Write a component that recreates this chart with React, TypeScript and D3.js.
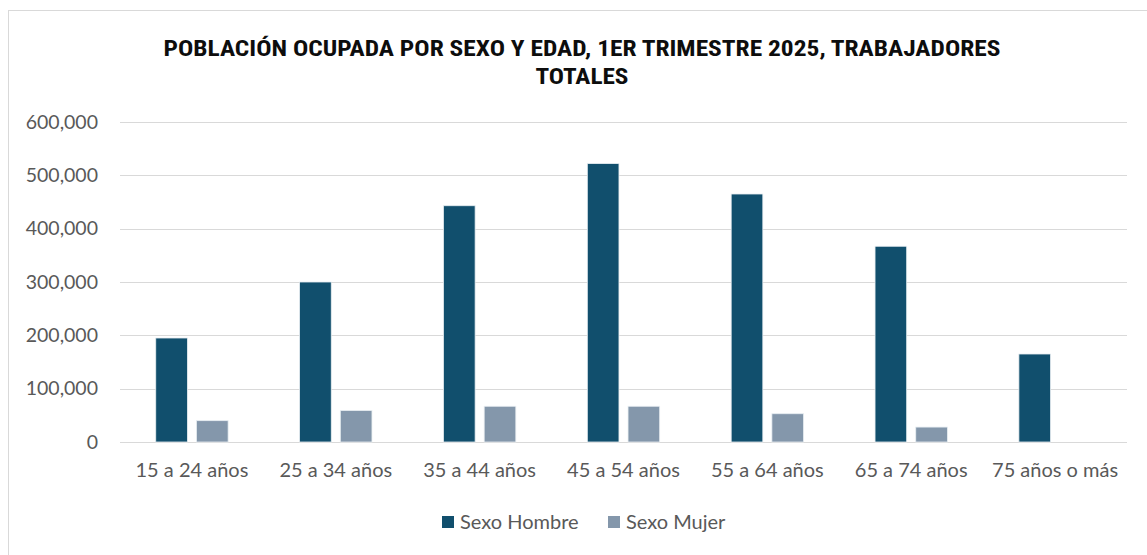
import { useEffect, useRef } from "react";
import * as d3 from "d3";

const categories = [
    "15 a 24 años",
    "25 a 34 años",
    "35 a 44 años",
    "45 a 54 años",
    "55 a 64 años",
    "65 a 74 años",
    "75 años o más",
];
const hombreValues = [195000, 300000, 443000, 522000, 465000, 367000, 165000];
const mujerValues = [40000, 59000, 67000, 67000, 53000, 28000, 0];
const yTicks = [0, 100000, 200000, 300000, 400000, 500000, 600000];
const seriesNames = ["Sexo Hombre", "Sexo Mujer"];
const seriesColors = ["#114f6d", "#8497ab"];

const titleLines = [
    "POBLACIÓN OCUPADA POR SEXO Y EDAD, 1ER TRIMESTRE 2025, TRABAJADORES",
    "TOTALES",
];
const titleWidths = [837, 93];

const WIDTH = 1147;
const HEIGHT = 555;
const FONT = "Lato, 'Open Sans', sans-serif";

const App = () => {
    const svgRef = useRef<SVGSVGElement>(null);

    useEffect(() => {
        document.body.style.margin = "0";
        const svg = d3.select(svgRef.current);
        svg.selectAll("*").remove();

        const margin = { left: 120, right: 20, top: 122, bottom: 113 };

        // chart frame
        svg.append("rect")
            .attr("x", 8.5)
            .attr("y", 10.5)
            .attr("width", WIDTH)
            .attr("height", HEIGHT)
            .attr("fill", "white")
            .attr("stroke", "#d9d9d9");

        const x = d3
            .scaleBand()
            .domain(categories)
            .range([margin.left, WIDTH - margin.right]);
        const y = d3
            .scaleLinear()
            .domain([0, 600000])
            .range([HEIGHT - margin.bottom, margin.top]);

        // gridlines
        svg.append("g")
            .selectAll("line")
            .data(yTicks)
            .enter()
            .append("line")
            .attr("x1", margin.left)
            .attr("x2", WIDTH - margin.right)
            .attr("y1", (d) => Math.round(y(d)) + 0.5)
            .attr("y2", (d) => Math.round(y(d)) + 0.5)
            .attr("stroke", "#d9d9d9")
            .attr("stroke-width", 1);

        // y labels
        svg.append("g")
            .selectAll("text")
            .data(yTicks)
            .enter()
            .append("text")
            .attr("x", 98)
            .attr("y", (d) => y(d))
            .attr("dy", "0.35em")
            .attr("text-anchor", "end")
            .attr("font-family", FONT)
            .attr("font-size", 19.5)
            .attr("fill", "#595959")
            .text((d) => d3.format(",")(d));

        const bw = x.bandwidth();
        const barW = bw * 0.22;
        const gap = bw * 0.063;
        const series = [hombreValues, mujerValues];

        series.forEach((values, si) => {
            svg.append("g")
                .selectAll("rect")
                .data(values.map((v, i) => ({ cat: categories[i], v })).filter((d) => d.v > 0))
                .enter()
                .append("rect")
                .attr("x", (d) => {
                    const c = (x(d.cat) ?? 0) + bw / 2;
                    return si === 0 ? c - gap / 2 - barW : c + gap / 2;
                })
                .attr("y", (d) => y(d.v))
                .attr("width", barW)
                .attr("height", (d) => y(0) - y(d.v))
                .attr("fill", seriesColors[si])
                .attr("stroke", "#e8eef2")
                .attr("stroke-width", 0.8);
        });

        // x labels
        svg.append("g")
            .selectAll("text")
            .data(categories)
            .enter()
            .append("text")
            .attr("x", (d) => (x(d) ?? 0) + bw / 2)
            .attr("y", 477)
            .attr("text-anchor", "middle")
            .attr("font-family", FONT)
            .attr("font-size", 20)
            .attr("fill", "#595959")
            .text((d) => d);

        // title
        svg.append("g")
            .selectAll("text")
            .data(titleLines)
            .enter()
            .append("text")
            .attr("x", 582)
            .attr("y", (_, i) => 56 + i * 28)
            .attr("text-anchor", "middle")
            .attr("font-family", "'Liberation Sans Narrow', 'Roboto Condensed', 'DejaVu Sans Condensed', sans-serif")
            .attr("font-weight", "bold")
            .attr("font-size", 22)
            .attr("textLength", (_, i) => titleWidths[i])
            .attr("lengthAdjust", "spacingAndGlyphs")
            .attr("fill", "#0d0d0d")
            .text((d) => d);

        // legend
        const legendX = [442, 608];
        const legend = svg
            .append("g")
            .selectAll("g")
            .data(seriesNames)
            .enter()
            .append("g")
            .attr("transform", (_, i) => `translate(${legendX[i]}, 516)`);
        legend
            .append("rect")
            .attr("width", 12)
            .attr("height", 12)
            .attr("fill", (_, i) => seriesColors[i]);
        legend
            .append("text")
            .attr("x", 18)
            .attr("y", 6)
            .attr("dy", "0.35em")
            .attr("font-family", FONT)
            .attr("font-size", 20)
            .attr("fill", "#595959")
            .text((d) => d);
    }, []);

    return <svg ref={svgRef} width={WIDTH} height={HEIGHT} style={{ display: "block" }}></svg>;
};

export default App;
